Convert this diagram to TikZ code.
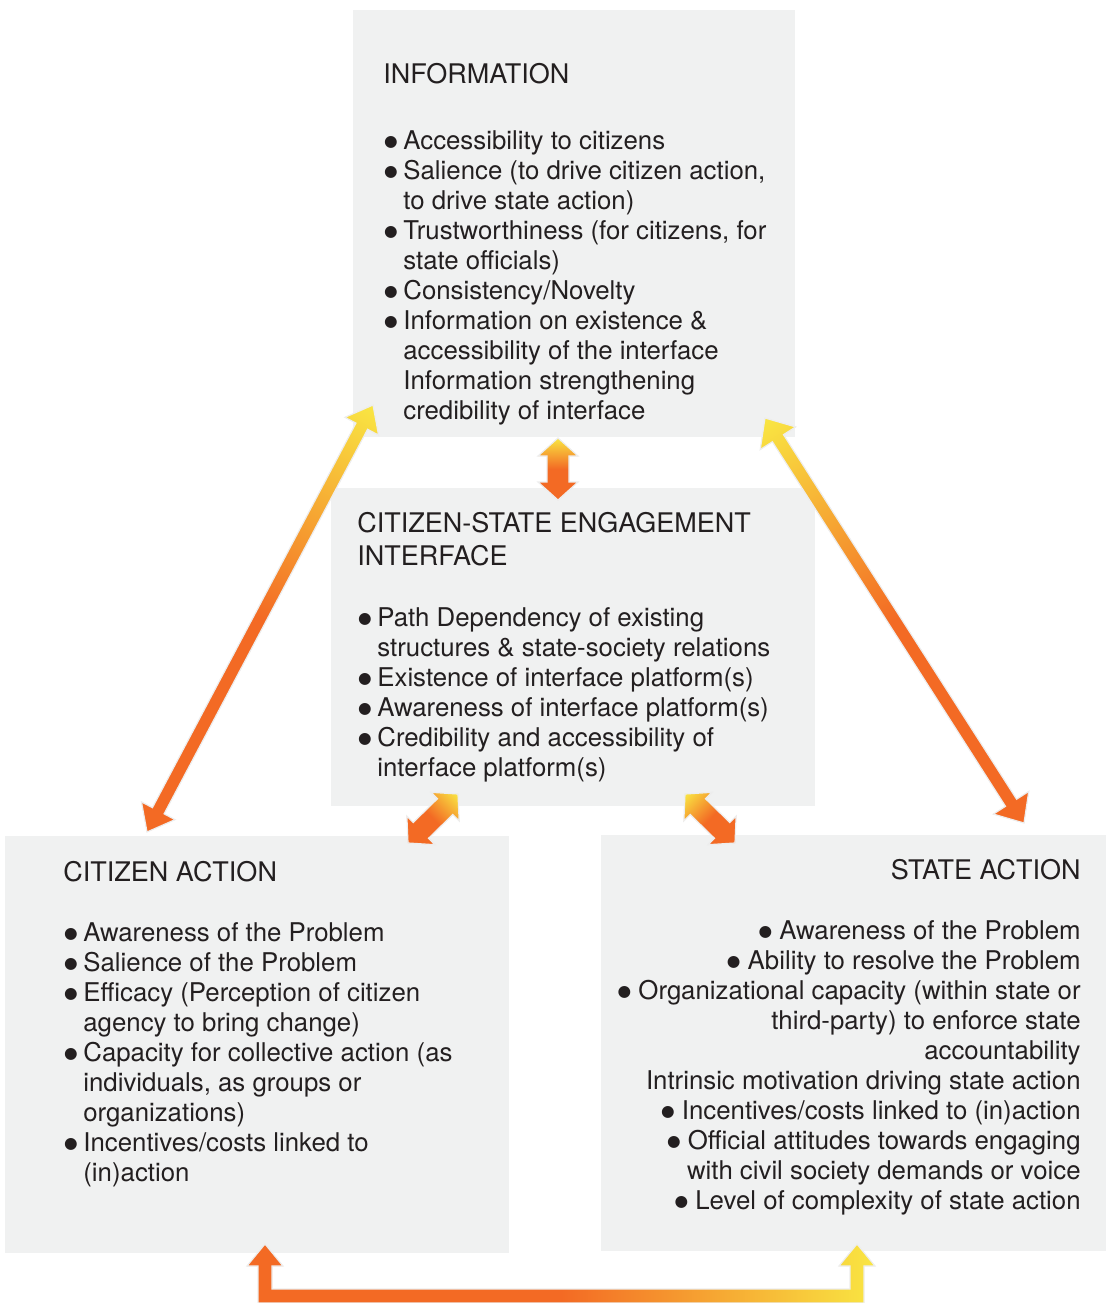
\documentclass[tikz,border=0pt]{standalone}
\usepackage{fontspec}
\setmainfont{TeX Gyre Heros}
\newfontfamily\dotfont{DejaVu Sans}
\usetikzlibrary{calc, positioning}

\definecolor{boxgrey}{RGB}{240,241,241}
\definecolor{arorange}{RGB}{243,106,36}
\definecolor{aryellow}{RGB}{249,230,66}
\definecolor{txtgrey}{RGB}{35,31,32}

\newcommand{\bigdot}{\raisebox{1.5pt}{\dotfont\fontsize{7.8}{7.8}\selectfont ●}}
\newcommand{\bul}{\makebox[10pt][l]{\hspace*{0.3pt}\bigdot}}
\newcommand{\ind}{\hspace*{10pt}}
\newcommand{\hd}[1]{{\fontsize{13.5}{15}\selectfont #1}}

% straight double arrow, yellow at #1, orange at #2
\newcommand{\gradarrow}[5]{%
  \pgfpointanchor{#1}{center}\pgfgetlastxy{\gaAx}{\gaAy}%
  \pgfpointanchor{#2}{center}\pgfgetlastxy{\gaBx}{\gaBy}%
  \pgfmathsetmacro{\gaAng}{atan2(\gaBy-\gaAy,\gaBx-\gaAx)}%
  \pgfmathsetlengthmacro{\gaLen}{veclen(\gaBx-\gaAx,\gaBy-\gaAy)}%
  \pgfmathsetlengthmacro{\gaEnd}{\gaLen-#5pt}%
  \begin{scope}[transform canvas={shift={(\gaAx,\gaAy)},rotate=\gaAng}]
    \shade[arrowfill] (0pt,0pt) -- (#5pt,#4pt) -- (#5pt,#3pt) -- (\gaEnd,#3pt) -- (\gaEnd,#4pt)
      -- (\gaLen,0pt) -- (\gaEnd,-#4pt) -- (\gaEnd,-#3pt) -- (#5pt,-#3pt) -- (#5pt,-#4pt) -- cycle;
  \end{scope}}

\tikzset{
  panel/.style={fill=boxgrey, draw=none, anchor=north west, inner sep=0pt},
  paneltext/.style={inner sep=0pt, text=txtgrey, font=\fontsize{12.9}{15}\selectfont},
  arrowfill/.style={left color=aryellow, right color=arorange, middle color=arorange, draw=black!7, line width=0.6pt},
}

\begin{document}
\begin{tikzpicture}[x=0.5pt, y=-0.5pt]
  \useasboundingbox (0,0) rectangle (1106,1303);

  % boxes
  \node[panel, minimum width=221pt, minimum height=213.5pt] (info) at (353,10) {};
  \node[panel, minimum width=242pt, minimum height=159pt] (ifc) at (331,488) {};
  \node[panel, minimum width=252pt, minimum height=208.5pt] (cit) at (5,836) {};
  \node[panel, minimum width=252.5pt, minimum height=208pt] (sta) at (601,835) {};

  % texts
  \node[paneltext, anchor=north west, align=left] (infotxt) at (383,63) {%
    \hd{INFORMATION}\\[18pt]
    \bul Accessibility to citizens\\
    \bul Salience (to drive citizen action,\\
    \ind to drive state action)\\
    \bul Trustworthiness (for citizens, for\\
    \ind state officials)\\
    \bul Consistency/Novelty\\
    \bul Information on existence \&\\
    \ind accessibility of the interface\\
    \ind Information strengthening\\
    \ind credibility of interface};
  \node[paneltext, anchor=north west, align=left] (ifctxt) at (357,512) {%
    \hd{CITIZEN-STATE ENGAGEMENT}\\[1.5pt]
    \hd{INTERFACE}\\[15.5pt]
    \bul Path Dependency of existing\\
    \ind structures \& state-society relations\\
    \bul Existence of interface platform(s)\\
    \bul Awareness of interface platform(s)\\
    \bul Credibility and accessibility of\\
    \ind interface platform(s)};
  \node[paneltext, anchor=north west, align=left] (cittxt) at (63,861) {%
    \hd{CITIZEN ACTION}\\[15pt]
    \bul Awareness of the Problem\\
    \bul Salience of the Problem\\
    \bul Efficacy (Perception of citizen\\
    \ind agency to bring change)\\
    \bul Capacity for collective action (as\\
    \ind individuals, as groups or\\
    \ind organizations)\\
    \bul Incentives/costs linked to\\
    \ind (in)action};
  \node[paneltext, anchor=north east, align=right] (statxt) at (1081,859) {%
    \hd{STATE ACTION}\\[15pt]
    \bigdot\ Awareness of the Problem\\
    \bigdot\ Ability to resolve the Problem\\
    \bigdot\ Organizational capacity (within state or\\
    third-party) to enforce state\\
    accountability\\
    Intrinsic motivation driving state action\\
    \bigdot\ Incentives/costs linked to (in)action\\
    \bigdot\ Official attitudes towards engaging\\
    with civil society demands or voice\\
    \bigdot\ Level of complexity of state action};

  % arrow ends
  \coordinate (infoL) at (373,405);
  \coordinate (citU) at (147,832);
  \coordinate (infoR) at (765,418);
  \coordinate (staU) at (1024,823);
  \coordinate (infoB) at (558,438);
  \coordinate (ifcT) at (558,500);
  \coordinate (ifcL) at (458,794);
  \coordinate (citR) at (408,843);
  \coordinate (ifcR) at (685,794);
  \coordinate (staL) at (735,843);
  \coordinate (citB) at (265,1244);
  \coordinate (staB) at (857,1244);

  % arrows
  \gradarrow{infoL}{citU}{3.3}{9.5}{12}
  \gradarrow{infoR}{staU}{3.3}{10.5}{12}
  \gradarrow{infoB}{ifcT}{5.5}{10}{9}
  \gradarrow{ifcL}{citR}{5.5}{10}{9}
  \gradarrow{ifcR}{staL}{5.5}{10}{9}
  \shade[left color=arorange, right color=aryellow, middle color=arorange, draw=black!7, line width=0.6pt]
    (citB) -- ++(18,22) -- ++(-11,0) -- ($(citB)+(7,45)$) -- ($(staB)+(-7,45)$) -- ++(0,-23) -- ++(-11,0)
    -- (staB) -- ++(18,22) -- ++(-11,0) -- ($(staB)+(7,59)$) -- ($(citB)+(-7,59)$) -- ++(0,-37) -- ++(-11,0) -- cycle;
\end{tikzpicture}
\end{document}
